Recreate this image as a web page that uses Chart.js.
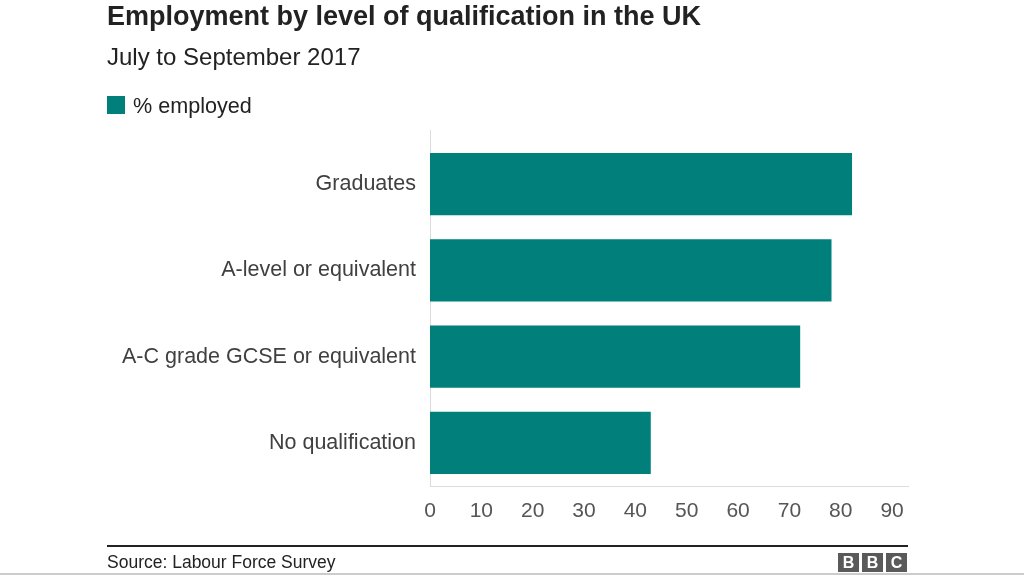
<!DOCTYPE html>
<html>
<head>
<meta charset="utf-8">
<script src="https://cdn.jsdelivr.net/npm/chart.js@4"></script>
<style>
  html, body { margin:0; padding:0; background:#fff; }
  body { width:1024px; height:575px; position:relative; overflow:hidden; font-family:"Liberation Sans", Arial, sans-serif; }
  #c { position:absolute; left:0; top:0; }
  .title { position:absolute; left:107px; top:1px; font-size:27px; font-weight:bold; color:#222; white-space:nowrap; line-height:normal; }
  .sub { position:absolute; left:107px; top:43px; font-size:24px; color:#222; white-space:nowrap; }
  .leg { position:absolute; left:133px; top:93px; font-size:21.6px; color:#222; white-space:nowrap; }
  .sw { position:absolute; left:107px; top:96px; width:18px; height:18px; background:#007f7b; }
  .rule { position:absolute; left:107px; top:545px; width:801px; height:2px; background:#222; }
  .src { position:absolute; left:107px; top:552px; font-size:17.5px; color:#222; white-space:nowrap; }
  .bbc { position:absolute; left:838px; top:553px; display:flex; gap:3px; }
  .bbc div { width:21px; height:19px; background:#5a5a5a; color:#fff; font-weight:bold; font-size:16px; line-height:19px; text-align:center; }
  .bot { position:absolute; left:0; top:573px; width:1024px; height:2px; background:#ccc; }
</style>
</head>
<body>
<canvas id="c" width="1024" height="575"></canvas>
<div class="title">Employment by level of qualification in the UK</div>
<div class="sub">July to September 2017</div>
<div class="sw"></div>
<div class="leg">% employed</div>
<div class="rule"></div>
<div class="src">Source: Labour Force Survey</div>
<div class="bbc"><div>B</div><div>B</div><div>C</div></div>
<div class="bot"></div>
<script>
const categories = ["Graduates", "A-level or equivalent", "A-C grade GCSE or equivalent", "No qualification"];
const employedPct = [82.2, 78.2, 72.1, 43.0];
const seriesLabel = "% employed";
const xTicks = [0, 10, 20, 30, 40, 50, 60, 70, 80, 90];

const extendLeftLine = {
  id: 'extendLeftLine',
  afterDraw(chart) {
    const ctx = chart.ctx, a = chart.chartArea;
    ctx.save();
    ctx.strokeStyle = '#dcdcdc';
    ctx.lineWidth = 1;
    ctx.beginPath();
    ctx.moveTo(a.left + 0.5, 130);
    ctx.lineTo(a.left + 0.5, a.top);
    ctx.stroke();
    ctx.restore();
  }
};

new Chart(document.getElementById('c'), {
  type: 'bar',
  data: {
    labels: categories,
    datasets: [{
      label: seriesLabel,
      data: employedPct,
      backgroundColor: '#007f7b',
      borderWidth: 0,
      categoryPercentage: 1.0,
      barPercentage: 0.72
    }]
  },
  options: {
    indexAxis: 'y',
    responsive: false,
    animation: false,
    devicePixelRatio: 1,
    layout: { padding: { left: 0, right: 116, top: 141, bottom: 0 } },
    plugins: { legend: { display: false }, tooltip: { enabled: false } },
    scales: {
      x: {
        min: 0, max: 93.1,
        afterBuildTicks(scale) { scale.ticks = xTicks.map(v => ({ value: v })); },
        afterFit(scale) { scale.height = 89; },
        grid: { display: false, drawTicks: false },
        border: { display: true, color: '#dcdcdc', width: 1 },
        ticks: { color: '#555', font: { family: 'Liberation Sans', size: 21 }, padding: 13, maxRotation: 0 }
      },
      y: {
        afterFit(scale) { scale.width = 430; },
        grid: { display: false, drawTicks: false },
        border: { display: true, color: '#dcdcdc', width: 1 },
        ticks: { color: '#404040', font: { family: 'Liberation Sans', size: 21.5 }, padding: 14 }
      }
    }
  },
  plugins: [extendLeftLine]
});
</script>
</body>
</html>
